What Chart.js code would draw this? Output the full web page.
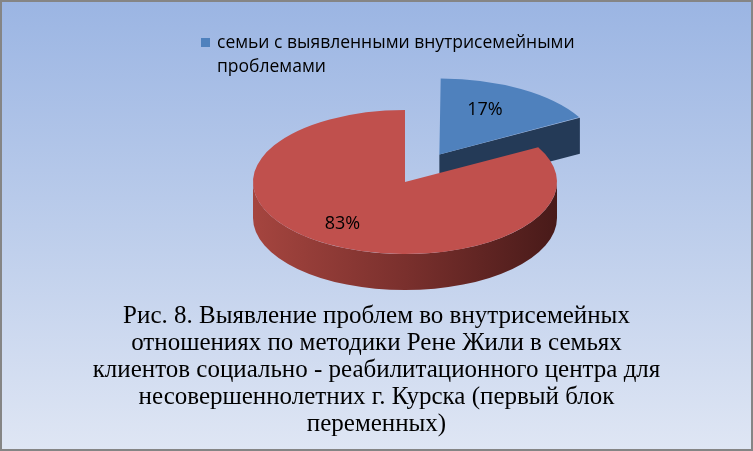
<!DOCTYPE html>
<html>
<head>
<meta charset="utf-8">
<script src="https://cdn.jsdelivr.net/npm/chart.js@4"></script>
<style>
  html, body { margin: 0; padding: 0; background: #fff; }
  canvas { display: block; }
</style>
</head>
<body>
<canvas id="chart" width="753" height="451"></canvas>
<script>
// Series data
const categories = ['семьи с выявленными внутрисемейными проблемами', ''];
const values = [17, 83];
const captionLines = [
  'Рис. 8. Выявление проблем во внутрисемейных',
  'отношениях по методики Рене Жили в семьях',
  'клиентов социально - реабилитационного центра для',
  'несовершеннолетних г. Курска (первый блок',
  'переменных)'
];

// Styling
const topColors = ['#4f81bd', '#c0504d'];
const faceColors = ['#243a57', '#6a2826'];
const wallStops = [
  [[0, '#3b5f8c'], [1, '#1d2f48']],
  [[0, '#a5453f'], [0.5, '#7a302d'], [1, '#481a19']]
];
const explodeOffsets = [270, 0];

// Tilted pie geometry (screen centre, vertical squash, thickness)
const PIE = { cx: 405, cy: 182, tilt: 0.474, depth: 36, labelFrac: 0.68, labelNudgeX: -10 };
const LEGEND = { x: 201, y: 38, box: 9, textX: 217, baseline: 48, lineH: 24, maxW: 420,
                 font: '17.5px "Open Sans"' };
const LABEL_FONT = '18px "Open Sans"';

function arcGeom(arc) {
  const p = arc.getProps(['x', 'y', 'startAngle', 'endAngle', 'outerRadius', 'circumference'], true);
  const off = (arc.options.offset || 0) / 4;
  const half = (p.startAngle + p.endAngle) / 2;
  const fix = 1 - Math.sin(Math.min(Math.PI, p.circumference || 0));
  return {
    x: p.x + Math.cos(half) * off,
    y: p.y + Math.sin(half) * off,
    r: p.outerRadius + off * fix,
    a0: p.startAngle, a1: p.endAngle, half,
    ox: p.x, oy: p.y
  };
}

function toScreen(g, px, py) {
  return [PIE.cx + (px - g.ox), PIE.cy + (py - g.oy) * PIE.tilt];
}

function drawSides(chart) {
  const ctx = chart.ctx;
  const arcs = chart.getDatasetMeta(0).data;
  const D = PIE.depth;
  arcs.forEach((arc, i) => {
    const g = arcGeom(arc);
    const [sx, sy] = toScreen(g, g.x, g.y);
    const rx = g.r, ry = g.r * PIE.tilt;

    // radial cut faces that look toward the viewer
    const faces = [];
    if (Math.cos(g.a0) < -1e-6) faces.push(g.a0);
    if (Math.cos(g.a1) > 1e-6) faces.push(g.a1);
    faces.forEach(a => {
      const ex = sx + rx * Math.cos(a), ey = sy + ry * Math.sin(a);
      ctx.beginPath();
      ctx.moveTo(sx, sy);
      ctx.lineTo(ex, ey);
      ctx.lineTo(ex, ey + D);
      ctx.lineTo(sx, sy + D);
      ctx.closePath();
      ctx.fillStyle = faceColors[i];
      ctx.fill();
    });

    // outer wall on the front half of the rim
    const grad = ctx.createLinearGradient(sx - rx, 0, sx + rx, 0);
    wallStops[i].forEach(([o, c]) => grad.addColorStop(o, c));
    for (let k = -1; k <= 1; k++) {
      const s = Math.max(g.a0, 2 * Math.PI * k);
      const e = Math.min(g.a1, 2 * Math.PI * k + Math.PI);
      if (e - s <= 1e-6) continue;
      ctx.beginPath();
      ctx.ellipse(sx, sy, rx, ry, 0, s, e, false);
      ctx.ellipse(sx, sy + D, rx, ry, 0, e, s, true);
      ctx.closePath();
      ctx.fillStyle = grad;
      ctx.fill();
    }
  });
}

function wrapText(ctx, text, maxW) {
  const words = text.split(' ');
  const lines = [];
  let cur = '';
  words.forEach(w => {
    const t = cur ? cur + ' ' + w : w;
    if (ctx.measureText(t).width > maxW && cur) { lines.push(cur); cur = w; }
    else cur = t;
  });
  if (cur) lines.push(cur);
  return lines;
}

const pie3d = {
  id: 'pie3d',
  beforeDraw(chart) {
    const { ctx, width, height } = chart;
    const bg = ctx.createLinearGradient(0, 0, 0, height);
    bg.addColorStop(0, '#9bb5e3');
    bg.addColorStop(0.5, '#bccdeb');
    bg.addColorStop(1, '#dfe6f4');
    ctx.save();
    ctx.fillStyle = bg;
    ctx.fillRect(0, 0, width, height);
    ctx.strokeStyle = '#858585';
    ctx.lineWidth = 2;
    ctx.strokeRect(1, 1, width - 2, height - 2);
    ctx.restore();
  },
  beforeDatasetsDraw(chart) {
    const ctx = chart.ctx;
    ctx.save();
    drawSides(chart);
    const a = chart.getDatasetMeta(0).data[0];
    ctx.translate(PIE.cx, PIE.cy);
    ctx.scale(1, PIE.tilt);
    ctx.translate(-a.x, -a.y);
  },
  afterDatasetsDraw(chart) {
    const ctx = chart.ctx;
    ctx.restore();
    // percentage labels
    const data = chart.data.datasets[0].data;
    const total = data.reduce((s, v) => s + v, 0);
    ctx.save();
    ctx.font = LABEL_FONT;
    ctx.fillStyle = '#000';
    ctx.textAlign = 'center';
    ctx.textBaseline = 'middle';
    chart.getDatasetMeta(0).data.forEach((arc, i) => {
      const g = arcGeom(arc);
      const px = g.x + Math.cos(g.half) * g.r * PIE.labelFrac;
      const py = g.y + Math.sin(g.half) * g.r * PIE.labelFrac;
      const [x, y] = toScreen(g, px, py);
      ctx.fillText(Math.round(data[i] / total * 100) + '%', x + PIE.labelNudgeX, y);
    });
    ctx.restore();
  },
  afterDraw(chart) {
    const ctx = chart.ctx;
    ctx.save();
    ctx.font = LEGEND.font;
    ctx.textAlign = 'left';
    ctx.textBaseline = 'alphabetic';
    let row = 0;
    chart.data.labels.forEach((label, i) => {
      if (!label) return;
      const top = LEGEND.baseline + row * LEGEND.lineH;
      ctx.fillStyle = chart.data.datasets[0].backgroundColor[i];
      ctx.fillRect(LEGEND.x, LEGEND.y + row * LEGEND.lineH, LEGEND.box, LEGEND.box);
      ctx.fillStyle = '#000';
      const lines = wrapText(ctx, label, LEGEND.maxW);
      lines.forEach((ln, j) => ctx.fillText(ln, LEGEND.textX, top + j * LEGEND.lineH));
      row += lines.length;
    });
    ctx.restore();
  }
};

new Chart(document.getElementById('chart'), {
  type: 'pie',
  data: {
    labels: categories,
    datasets: [{
      data: values,
      backgroundColor: topColors,
      borderWidth: 0,
      offset: explodeOffsets,
      clip: false
    }]
  },
  options: {
    responsive: false,
    animation: false,
    events: [],
    radius: 152,
    plugins: {
      legend: { display: false },
      tooltip: { enabled: false },
      title: {
        display: true,
        position: 'bottom',
        text: captionLines,
        color: '#000',
        font: { family: '"Liberation Serif", "Times New Roman", serif', size: 25, weight: 'normal', lineHeight: 1.08 },
        padding: { top: 0, bottom: 13 }
      }
    }
  },
  plugins: [pie3d]
});
</script>
</body>
</html>
